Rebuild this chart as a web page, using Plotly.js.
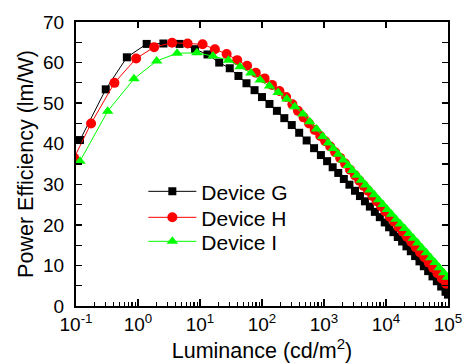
<!DOCTYPE html>
<html>
<head>
<meta charset="utf-8">
<script src="https://cdn.plot.ly/plotly-3.0.1.min.js"></script>
<style>html,body{margin:0;padding:0;background:#fff;}#chart{width:464px;height:363px;}</style>
</head>
<body>
<div id="chart"></div>
<script>
// Device G (black squares)
var lumG = [0.116, 0.302, 0.661, 1.38, 2.57, 4.68, 8.32, 13.2, 20.4, 30.2, 41.7, 56.2, 75.9, 100, 132, 174, 229, 302, 398, 525, 692, 891, 1122, 1380, 1698, 2089, 2570, 3162, 3802, 4571, 5495, 6607, 7943, 9550, 11220, 13180, 15490, 18200, 21380, 25120, 29510, 34670, 40740, 47860, 56230, 66070, 77620, 91200, 100000];
var peG  = [40.9, 53.4, 61.3, 64.6, 64.7, 64.6, 63.3, 62.0, 60.0, 58.6, 56.7, 54.9, 53.2, 51.5, 49.8, 48.1, 46.3, 44.6, 42.7, 40.8, 38.9, 37.2, 35.7, 34.2, 32.8, 31.3, 29.9, 28.4, 27.1, 25.8, 24.5, 23.2, 21.9, 20.6, 19.4, 18.2, 17.0, 15.9, 14.7, 13.5, 12.3, 11.0, 9.8, 8.6, 7.3, 6.1, 4.8, 3.5, 2.8];
// Device H (red circles)
var lumH = [0.0933, 0.175, 0.417, 0.933, 1.82, 3.55, 6.31, 11.0, 17.4, 26.9, 39.8, 57.5, 79.4, 110, 145, 191, 245, 309, 380, 468, 575, 708, 871, 1047, 1259, 1514, 1820, 2188, 2630, 3162, 3715, 4365, 5129, 6026, 7079, 8318, 9772, 11480, 13490, 15850, 18620, 21880, 25700, 30200, 35480, 41690, 48980, 57540, 67610, 79430, 93330];
var peH  = [36.5, 45.0, 55.0, 61.0, 63.8, 64.9, 64.7, 64.5, 63.3, 62.1, 60.6, 59.2, 57.5, 56.1, 54.5, 53.0, 51.5, 49.7, 48.1, 46.5, 45.0, 43.4, 41.9, 40.6, 39.3, 37.9, 36.5, 35.1, 33.6, 32.2, 30.9, 29.6, 28.4, 27.1, 25.8, 24.6, 23.3, 22.0, 20.8, 19.5, 18.3, 17.0, 15.8, 14.5, 13.2, 12.0, 10.7, 9.4, 8.1, 6.8, 5.5];
// Device I (green triangles)
var lumI = [0.116, 0.324, 0.861, 2.00, 4.27, 8.91, 16.2, 28.8, 44.2, 66.1, 93.3, 132, 182, 251, 339, 457, 589, 759, 955, 1175, 1413, 1698, 2042, 2455, 2884, 3388, 3981, 4677, 5495, 6457, 7586, 8913, 10470, 12300, 14450, 16980, 19950, 23440, 27540, 32360, 38020, 44670, 52480, 61660, 72440, 85110, 97720];
var peI  = [35.7, 48.0, 56.0, 60.4, 62.3, 62.4, 61.6, 60.6, 59.0, 57.4, 55.7, 54.2, 52.6, 51.0, 49.1, 47.3, 45.4, 43.6, 41.8, 40.2, 38.8, 37.4, 36.0, 34.6, 33.4, 32.2, 31.0, 29.8, 28.6, 27.4, 26.2, 25.0, 23.8, 22.6, 21.4, 20.2, 19.1, 17.9, 16.7, 15.5, 14.3, 13.1, 11.9, 10.7, 9.4, 8.2, 7.1];

var seriesNames = ["Device G", "Device H", "Device I"];
var xTickVals = [0.1, 1, 10, 100, 1000, 10000, 100000];
var xTickText = ["10<sup>-1</sup>", "10<sup>0</sup>", "10<sup>1</sup>", "10<sup>2</sup>", "10<sup>3</sup>", "10<sup>4</sup>", "10<sup>5</sup>"];
var yTickVals = [0, 10, 20, 30, 40, 50, 60, 70];

var minorX = [];
for (var d = 0; d < xTickVals.length - 1; d++) {
  for (var m = 2; m <= 9; m++) minorX.push(xTickVals[d] * m);
}

var FONT = "Liberation Sans, Arial, sans-serif";

var traces = [
  {x: lumG, y: peG, name: seriesNames[0], type: "scatter", mode: "lines+markers", legend: "legend",
   line: {color: "#000000", width: 1}, marker: {symbol: "square", size: 8, color: "#000000"}},
  {x: lumH, y: peH, name: seriesNames[1], type: "scatter", mode: "lines+markers", legend: "legend2",
   line: {color: "#ff0000", width: 1}, marker: {symbol: "circle", size: 10, color: "#ff0000"}},
  {x: lumI, y: peI, name: seriesNames[2], type: "scatter", mode: "lines+markers", legend: "legend3",
   line: {color: "#00ff00", width: 1}, marker: {symbol: "triangle-up", size: 10, color: "#00ff00"}}
];

function legendBox(yc) {
  return {x: 0.181, y: yc, xanchor: "left", yanchor: "middle", bgcolor: "rgba(0,0,0,0)",
          font: {family: FONT, size: 21, color: "#000000"}, itemwidth: 48};
}

var layout = {
  width: 464, height: 363,
  margin: {l: 76, r: 16, t: 22, b: 57},
  paper_bgcolor: "#ffffff", plot_bgcolor: "#ffffff",
  font: {family: FONT, size: 19, color: "#000000"},
  showlegend: true,
  legend: legendBox(0.4025),
  legend2: legendBox(0.311),
  legend3: legendBox(0.2265),
  xaxis: {
    type: "log", range: [-1, 5], showgrid: false, zeroline: false,
    showline: true, linecolor: "#000", linewidth: 2, mirror: false,
    ticks: "inside", ticklen: 7, tickwidth: 1.5, tickcolor: "#000",
    tickmode: "array", tickvals: xTickVals, ticktext: xTickText,
    tickfont: {family: FONT, size: 19},
    minor: {tickmode: "array", tickvals: minorX, ticks: "inside", ticklen: 4, tickwidth: 1.2, tickcolor: "#000", showgrid: false},
    title: {text: "Luminance (cd/m<sup>2</sup>)", font: {family: FONT, size: 21.5}, standoff: 7}
  },
  xaxis2: {
    type: "log", range: [-1, 5], overlaying: "x", side: "top", showgrid: false, zeroline: false,
    showline: true, linecolor: "#000", linewidth: 2,
    ticks: "inside", ticklen: 6, tickwidth: 1.5, tickcolor: "#000",
    tickmode: "array", tickvals: xTickVals, showticklabels: false
  },
  yaxis: {
    range: [0, 70], showgrid: false, zeroline: false,
    showline: true, linecolor: "#000", linewidth: 2, mirror: "allticks",
    ticks: "inside", ticklen: 6, tickwidth: 1.5, tickcolor: "#000",
    tickmode: "array", tickvals: yTickVals,
    tickfont: {family: FONT, size: 19},
    ticklabelstandoff: 6,
    minor: {dtick: 5, ticks: "inside", ticklen: 4, tickwidth: 1.2, tickcolor: "#000", showgrid: false},
    title: {text: "Power Efficiency (lm/W)", font: {family: FONT, size: 21.5}, standoff: 4}
  }
};

// invisible helper trace to activate top axis
traces.push({x: [1], y: [null], xaxis: "x2", yaxis: "y", showlegend: false, hoverinfo: "skip", mode: "markers"});

Plotly.newPlot("chart", traces, layout, {displayModeBar: false, staticPlot: true});
</script>
</body>
</html>
